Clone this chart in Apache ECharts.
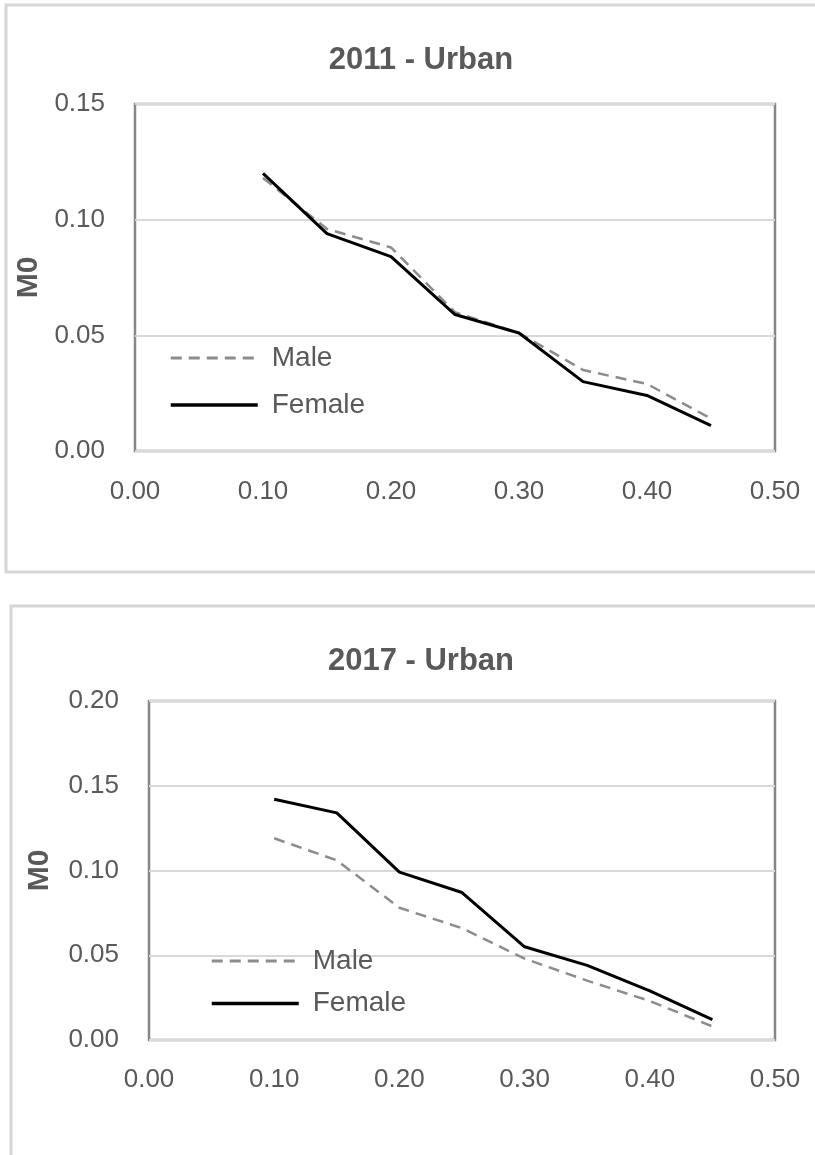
<!DOCTYPE html>
<html>
<head>
<meta charset="utf-8">
<script src="https://cdn.jsdelivr.net/npm/echarts@6/dist/echarts.min.js"></script>
<style>
html,body{margin:0;padding:0;background:#fff;}
#c{width:815px;height:1155px;}
</style>
</head>
<body>
<div id="c"></div>
<script>
// Poverty cutoff k (x axis)
const cutoffs = [0.10, 0.15, 0.20, 0.25, 0.30, 0.35, 0.40, 0.45];
// 2011 - Urban
const male2011 = [0.118, 0.096, 0.088, 0.060, 0.051, 0.035, 0.029, 0.014];
const female2011 = [0.120, 0.094, 0.084, 0.059, 0.051, 0.030, 0.024, 0.011];
// 2017 - Urban
const male2017 = [0.119, 0.106, 0.078, 0.066, 0.048, 0.035, 0.023, 0.008];
const female2017 = [0.142, 0.134, 0.099, 0.087, 0.055, 0.044, 0.029, 0.012];
// tick settings
const xTicks = [0.0, 0.1, 0.2, 0.3, 0.4, 0.5];
const titles = ['2011 - Urban', '2017 - Urban'];
const seriesNames = ['Male', 'Female'];

const pairs = (vals) => cutoffs.map((x, i) => [x, vals[i]]);
const labelColor = '#595959';
const fontFam = 'Liberation Sans, Arial, sans-serif';

function xAxis(gridIndex, margin) {
  return {
    type: 'value', gridIndex, min: xTicks[0], max: xTicks[xTicks.length - 1], interval: 0.1,
    axisLine: { show: false }, axisTick: { show: false }, splitLine: { show: false },
    axisLabel: { color: labelColor, fontSize: 26, fontFamily: fontFam, margin, formatter: v => v.toFixed(2) }
  };
}
function yAxis(gridIndex, max, nameGap) {
  return {
    type: 'value', gridIndex, min: 0, max, interval: 0.05,
    name: 'M0', nameLocation: 'middle', nameRotate: 90, nameGap,
    nameTextStyle: { color: labelColor, fontSize: 30, fontWeight: 'bold', fontFamily: fontFam },
    axisLine: { show: false }, axisTick: { show: false },
    splitLine: { show: true, lineStyle: { color: '#d9d9d9', width: 2 } },
    axisLabel: { color: labelColor, fontSize: 26, fontFamily: fontFam, margin: 30, formatter: v => v.toFixed(2) }
  };
}
const maleStyle = { color: '#8c8c8c', width: 2.5, type: [11, 7] };
const femaleStyle = { color: '#000000', width: 3, type: 'solid' };
const styles = { Male: maleStyle, Female: femaleStyle };
function line(name, data, idx, style) {
  return {
    name, type: 'line', xAxisIndex: idx, yAxisIndex: idx, data: pairs(data),
    symbol: 'none', showSymbol: false, lineStyle: style, itemStyle: { color: style.color },
    emphasis: { disabled: true }, animation: false
  };
}
function legend(left, top, gap) {
  return {
    orient: 'vertical', left, top, padding: 0, itemWidth: 87, itemHeight: 14, itemGap: gap,
    data: seriesNames.map(n => ({
      name: n,
      itemStyle: { opacity: 0 },
      lineStyle: { color: styles[n].color, width: styles[n].width + 0.5, type: styles[n].type }
    })),
    itemStyle: { opacity: 0 },
    textStyle: { color: labelColor, fontSize: 28, lineHeight: 30, fontFamily: fontFam, padding: [0, 0, 0, 9] }
  };
}

const chart = echarts.init(document.getElementById('c'), null, { renderer: 'canvas' });
chart.setOption({
  backgroundColor: '#ffffff',
  animation: false,
  graphic: [
    { type: 'rect', shape: { x: 6, y: 5, width: 830, height: 567 }, style: { fill: 'none', stroke: '#d6d6d6', lineWidth: 3 }, silent: true },
    { type: 'rect', shape: { x: 11, y: 606, width: 830, height: 580 }, style: { fill: 'none', stroke: '#d6d6d6', lineWidth: 3 }, silent: true }
  ],
  title: [
    { text: titles[0], left: 416, top: 40, textAlign: 'center', textStyle: { color: labelColor, fontSize: 31, fontWeight: 'bold', fontFamily: fontFam } },
    { text: titles[1], left: 416, top: 641, textAlign: 'center', textStyle: { color: labelColor, fontSize: 31, fontWeight: 'bold', fontFamily: fontFam } }
  ],
  grid: [
    { left: 135, right: 40, top: 104, height: 347, show: true, borderColor: '#868686', borderWidth: 2.5, backgroundColor: 'transparent' },
    { left: 149, right: 40, top: 701, height: 339, show: true, borderColor: '#868686', borderWidth: 2.5, backgroundColor: 'transparent' }
  ],
  xAxis: [xAxis(0, 28), xAxis(1, 27)],
  yAxis: [yAxis(0, 0.15, 83), yAxis(1, 0.20, 94)],
  legend: [legend(169, 343, 17), legend(210, 946, 12.5)],
  series: [
    line('Male', male2011, 0, maleStyle),
    line('Female', female2011, 0, femaleStyle),
    line('Male', male2017, 1, maleStyle),
    line('Female', female2017, 1, femaleStyle)
  ]
});
</script>
</body>
</html>
